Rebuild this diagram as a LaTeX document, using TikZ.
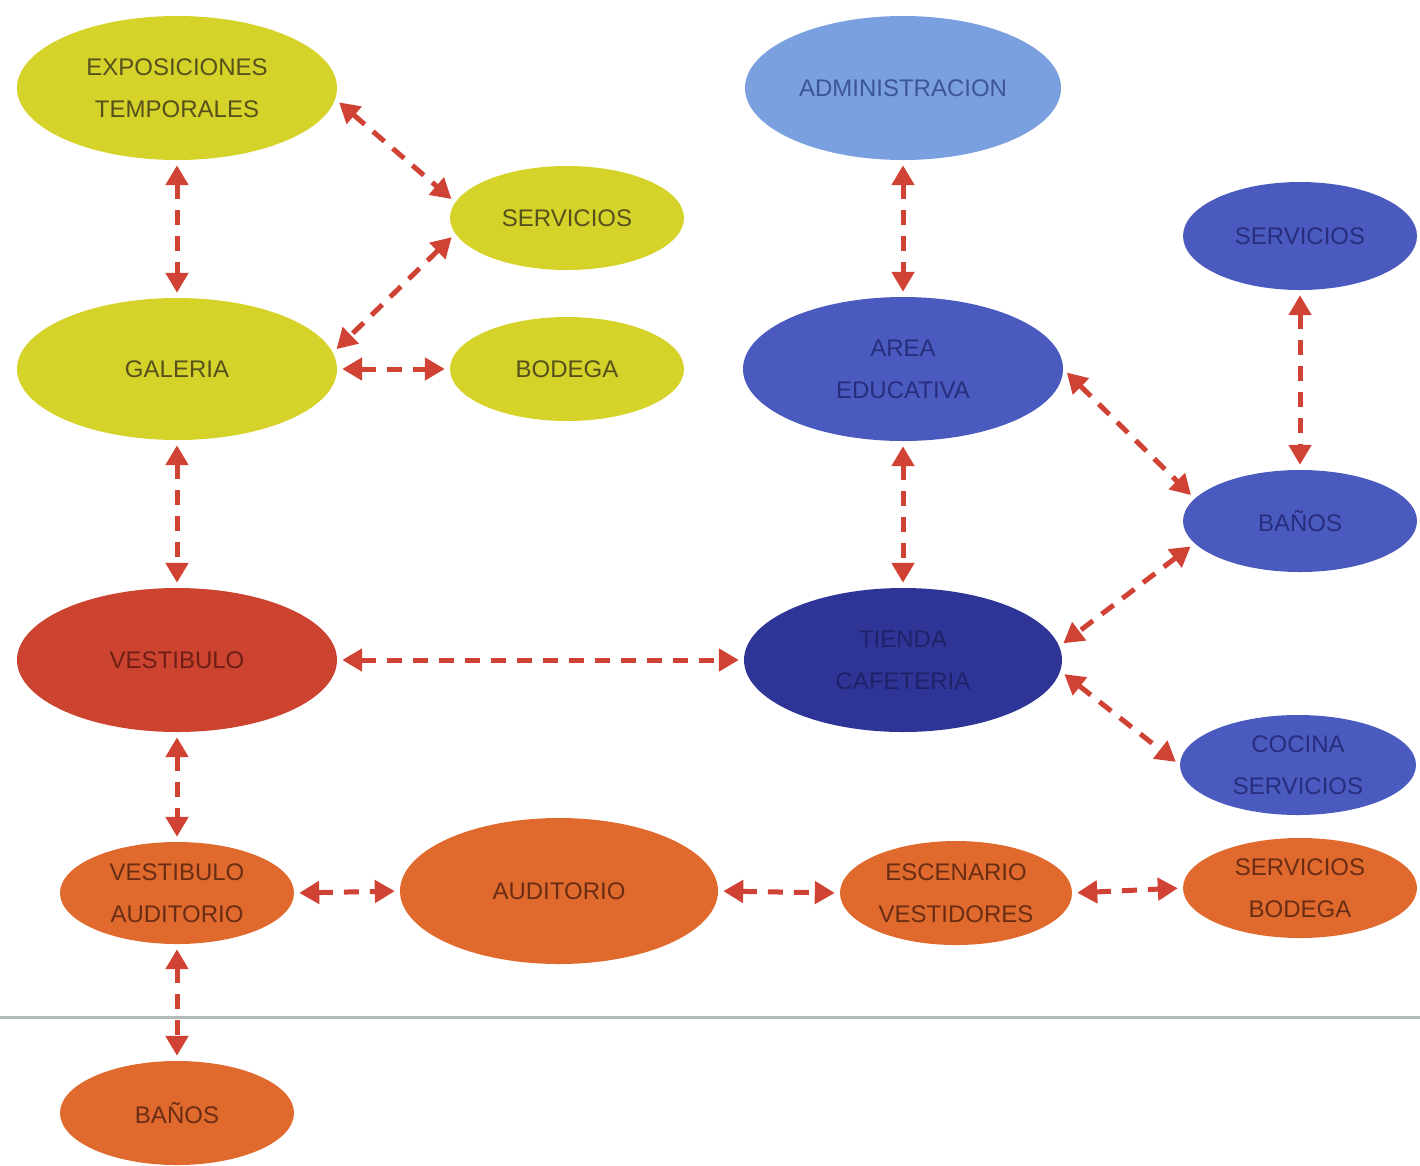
\documentclass[tikz,border=0pt]{standalone}
\usepackage{fontspec}
\setmainfont{Liberation Sans}
\usetikzlibrary{shapes.geometric,arrows.meta}
\definecolor{cyel}{RGB}{213,210,42}
\definecolor{tyel}{RGB}{85,80,28}
\definecolor{clb}{RGB}{122,160,224}
\definecolor{tlb}{RGB}{60,85,150}
\definecolor{cbl}{RGB}{74,90,190}
\definecolor{tbl}{RGB}{40,45,125}
\definecolor{cdb}{RGB}{47,53,150}
\definecolor{tdb}{RGB}{30,35,105}
\definecolor{cred}{RGB}{204,68,48}
\definecolor{tred}{RGB}{110,30,20}
\definecolor{cor}{RGB}{224,105,45}
\definecolor{tor}{RGB}{105,45,20}
\definecolor{carr}{RGB}{208,66,52}
\definecolor{cline}{RGB}{178,188,182}
\begin{document}
\begin{tikzpicture}[x=1pt,y=-1pt,
  bub/.style={ellipse,inner sep=0pt,align=center,
    font=\fontsize{24}{42}\selectfont},
  yel/.style={bub,fill=cyel,text=tyel},
  lblue/.style={bub,fill=clb,text=tlb},
  blu/.style={bub,fill=cbl,text=tbl},
  dblu/.style={bub,fill=cdb,text=tdb},
  redb/.style={bub,fill=cred,text=tred},
  orb/.style={bub,fill=cor,text=tor},
  big/.style={minimum width=320pt,minimum height=144pt},
  small/.style={minimum width=234pt,minimum height=104pt},
  link/.style={draw=carr,line width=5pt,dash pattern=on 15pt off 11pt,
    {Triangle[length=20pt,width=22pt]}-{Triangle[length=20pt,width=22pt]},
    shorten <=5pt,shorten >=5pt}]
\useasboundingbox (0,0) rectangle (1420,1165);
% separator line
\draw[cline,line width=3pt] (0,1017) -- (1420,1017);
% nodes
\node[yel,big] (expo) at (177,88) {EXPOSICIONES\\TEMPORALES};
\node[yel,small] (serv) at (567,218) {SERVICIOS};
\node[yel,big,minimum height=142pt] (gal) at (177,369) {GALERIA};
\node[yel,small] (bod) at (567,369) {BODEGA};
\node[lblue,big,minimum width=316pt] (adm) at (903,88) {ADMINISTRACION};
\node[blu,big] (area) at (903,369) {AREA\\EDUCATIVA};
\node[blu,small,minimum height=108pt] (servb) at (1300,236) {SERVICIOS};
\node[blu,small,minimum height=102pt] (banb) at (1300,521) {BAÑOS};
\node[dblu,big,minimum width=318pt] (tien) at (903,660) {TIENDA\\CAFETERIA};
\node[blu,small,minimum width=236pt,minimum height=100pt] (coc) at (1298,765) {COCINA\\SERVICIOS};
\node[redb,big] (vest) at (177,660) {VESTIBULO};
\node[orb,small,minimum height=102pt] (vaud) at (177,893) {VESTIBULO\\AUDITORIO};
\node[orb,big,minimum width=318pt,minimum height=146pt] (aud) at (559,891) {AUDITORIO};
\node[orb,small,minimum width=232pt] (esc) at (956,893) {ESCENARIO\\VESTIDORES};
\node[orb,small,minimum height=100pt] (sbod) at (1300,888) {SERVICIOS\\BODEGA};
\node[orb,small] (banos) at (177,1113) {BAÑOS};
% connectors
\draw[link] (expo.south) -- (gal.north);
\draw[link] (expo.-4) -- (serv.172);
\draw[link] (serv.188) -- (gal.6);
\draw[link] (gal.east) -- (bod.west);
\draw[link] (gal.south) -- (vest.north);
\draw[link] (vest.east) -- (tien.west);
\draw[link] (vest.south) -- (vaud.north);
\draw[link] (vaud.east) -- (aud.west);
\draw[link] (aud.east) -- (esc.west);
\draw[link] (esc.east) -- (sbod.west);
\draw[link] (vaud.south) -- (banos.north);
\draw[link] (adm.south) -- (area.north);
\draw[link] (area.south) -- (tien.north);
\draw[link] (area.east) -- (banb.168);
\draw[link] (banb.192) -- (tien.5);
\draw[link] (tien.-4) -- (coc.west);
\draw[link] (servb.south) -- (banb.north);
\end{tikzpicture}
\end{document}
